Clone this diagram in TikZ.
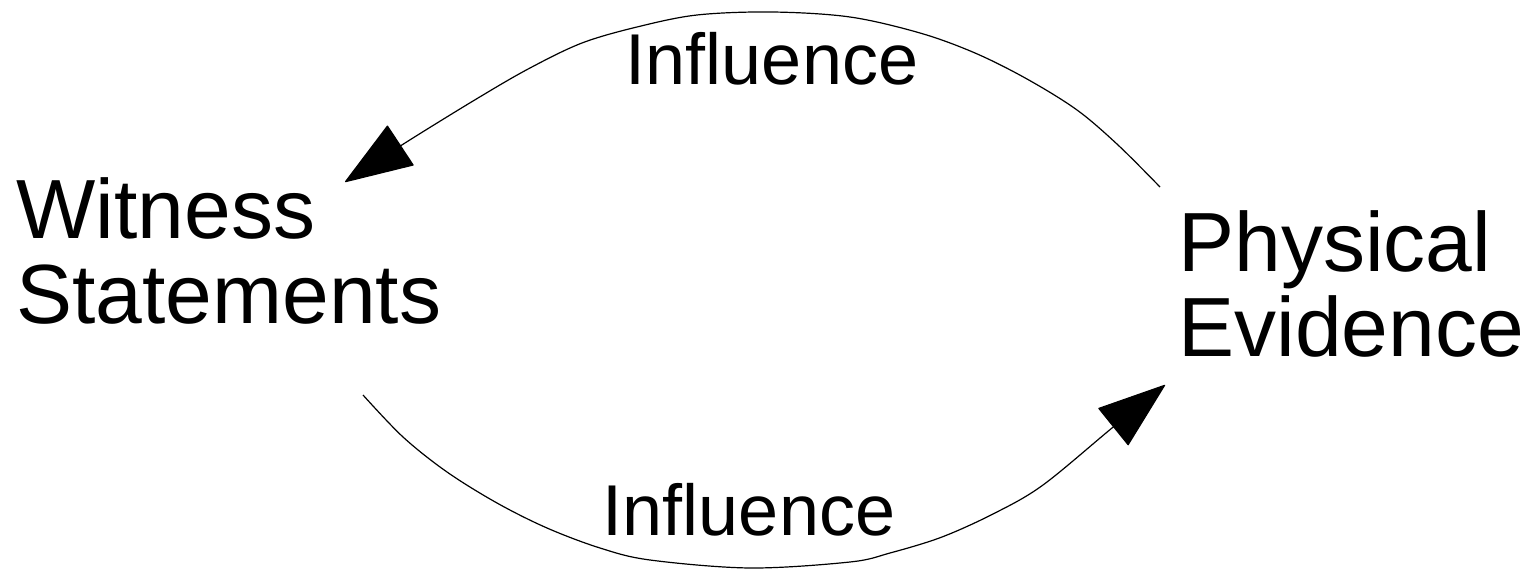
\documentclass[tikz,border=0pt]{standalone}
\usepackage{fontspec}
\setmainfont{Liberation Sans}
\usetikzlibrary{arrows.meta}
\begin{document}
\begin{tikzpicture}[x=0.5pt, y=-0.5pt,
  big/.style={font=\fontsize{42}{42.5}\selectfont, inner sep=0pt, align=left, anchor=north west},
  lbl/.style={font=\fontsize{36}{40}\selectfont, inner sep=0pt, anchor=base},
  conn/.style={line width=0.6pt, -{Triangle[length=34pt, width=24pt, round]}}]
\useasboundingbox (0,0) rectangle (1538,572);
\node[big] (ws) at (16,177) {Witness\\Statements};
\node[big] (pe) at (1178,210) {Physical\\Evidence};
\node[lbl] (inftop) at (772,85) {Influence};
\node[lbl] (infbot) at (749,535) {Influence};
\coordinate (topstart) at (1160,187);
\coordinate (toptip) at (345,182);
\coordinate (botstart) at (363,395);
\coordinate (bottip) at (1165,385);
\draw[conn] plot[smooth, tension=0.55] coordinates {(topstart) (1118,145) (1077,110) (1027,79) (975,53) (920,33) (850,17) (772,12) (697,15) (637,27) (582,43) (530,68) (478,98) (405,143) (toptip)};
\draw[conn] plot[smooth, tension=0.55] coordinates {(botstart) (403,437) (447,472) (497,503) (547,528) (600,548) (650,560) (750,568) (850,562) (890,553) (942,537) (995,513) (1043,485) (1112,428) (bottip)};
\end{tikzpicture}
\end{document}
